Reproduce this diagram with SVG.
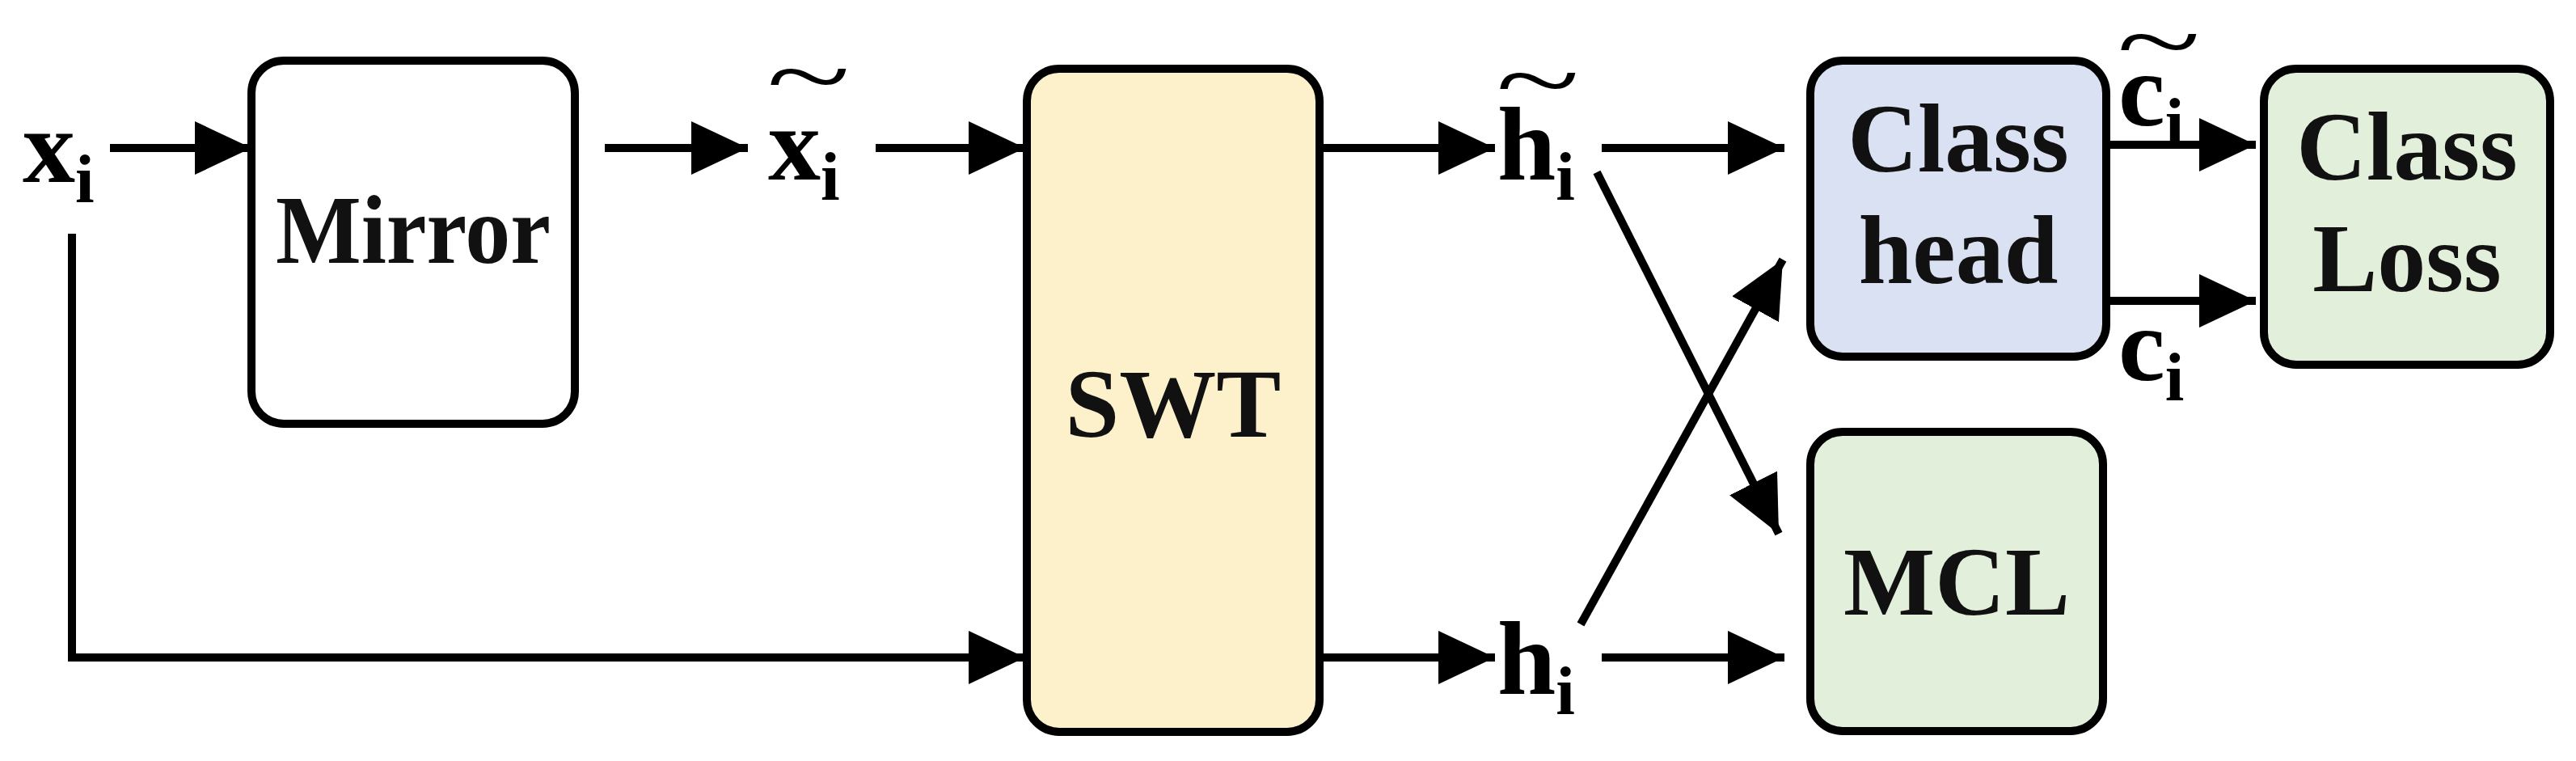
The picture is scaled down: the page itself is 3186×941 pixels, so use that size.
<svg xmlns="http://www.w3.org/2000/svg" width="3186" height="941" viewBox="0 0 3186 941">
<style>
.box{stroke:#000;stroke-width:10}
.lbl{font-family:"Liberation Serif","Times New Roman",serif;font-weight:bold;font-size:120px;text-anchor:middle;fill:#111}
.v{font-family:"Liberation Serif","Times New Roman",serif;font-weight:bold;font-size:130px;fill:#000}
.s{font-size:85px}
.t{font-family:"Liberation Serif",serif;font-size:120px;fill:#000}
.c{stroke:#000;stroke-width:10;fill:none;marker-end:url(#a)}
</style>
<defs><marker id="a" markerUnits="userSpaceOnUse" markerWidth="72" markerHeight="66" refX="70" refY="33" orient="auto"><path d="M0,0 L70,33 L0,66 Z" fill="#000"/></marker></defs>
<rect width="3186" height="941" fill="#fff"/>
<g id="mirror"><rect class="box" x="311" y="75" width="400" height="449" rx="40" fill="#fff"/><text class="lbl" x="511" y="325" textLength="340" lengthAdjust="spacingAndGlyphs">Mirror</text></g>
<g id="swt"><rect class="box" x="1270" y="85" width="362" height="820" rx="40" fill="#fdf1cc"/><text class="lbl" x="1451" y="540">SWT</text></g>
<g id="classhead"><rect class="box" x="2239" y="75" width="366" height="366" rx="40" fill="#dae1f2"/><text class="lbl" x="2422" y="212">Class</text><text class="lbl" x="2422" y="350">head</text></g>
<g id="classloss"><rect class="box" x="2800" y="85" width="354" height="366" rx="40" fill="#e2efda"/><text class="lbl" x="2977" y="222">Class</text><text class="lbl" x="2977" y="360">Loss</text></g>
<g id="mcl"><rect class="box" x="2239" y="534" width="362" height="370" rx="40" fill="#e2efda"/><text class="lbl" x="2420" y="760">MCL</text></g>
<g id="labels">
<text class="v" x="28" y="225">x<tspan class="s" dy="25">i</tspan></text>
<text class="v" x="950" y="222">x<tspan class="s" dy="25">i</tspan></text><text class="t" transform="translate(948,135) scale(1.6,1)" x="0" y="0">~</text>
<text class="v" x="1852" y="222">h<tspan class="s" dy="25">i</tspan></text><text class="t" transform="translate(1850,140) scale(1.6,1)" x="0" y="0">~</text>
<text class="v" x="1852" y="858">h<tspan class="s" dy="25">i</tspan></text>
<text class="v" x="2620" y="155">c<tspan class="s" dy="25">i</tspan></text><text class="t" transform="translate(2618,92) scale(1.6,1)" x="0" y="0">~</text>
<text class="v" x="2620" y="470">c<tspan class="s" dy="25">i</tspan></text>
</g>
<g id="connectors">
<line class="c" x1="136" y1="183" x2="311" y2="183"/>
<line class="c" x1="748" y1="183" x2="925" y2="183"/>
<line class="c" x1="1083" y1="183" x2="1268" y2="183"/>
<polyline class="c" points="89,289 89,813 1268,813"/>
<line class="c" x1="1632" y1="183" x2="1849" y2="183"/>
<line class="c" x1="1632" y1="813" x2="1849" y2="813"/>
<line class="c" x1="1981" y1="183" x2="2207" y2="183"/>
<line class="c" x1="1981" y1="813" x2="2207" y2="813"/>
<line class="c" x1="1975" y1="213" x2="2200" y2="660"/>
<line class="c" x1="1955" y1="772" x2="2205" y2="321"/>
<line class="c" x1="2605" y1="179" x2="2790" y2="179"/>
<line class="c" x1="2605" y1="372" x2="2790" y2="372"/>
</g>
</svg>
